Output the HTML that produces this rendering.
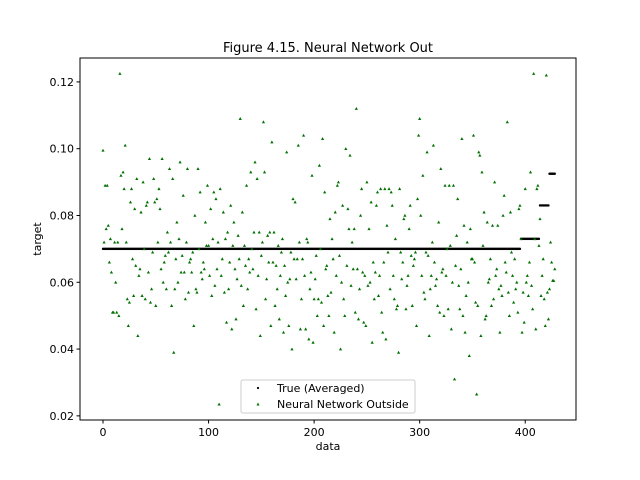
<!DOCTYPE html>
<html><head><meta charset="utf-8">
<style>
body{margin:0;background:#fff;}
svg{display:block;font-family:"DejaVu Sans","Liberation Sans",sans-serif;}
</style></head>
<body>
<svg id="chart" width="640" height="480" viewBox="0 0 640 480" xmlns="http://www.w3.org/2000/svg">
<rect width="640" height="480" fill="#fff"/>
<text x="328" y="52" text-anchor="middle" font-size="13">Figure 4.15. Neural Network Out</text>
<g id="marks"></g>
<rect x="80" y="58" width="496" height="362" fill="none" stroke="#000" stroke-width="1"/>
<g id="axes"></g>
<text x="328" y="450" text-anchor="middle" font-size="11">data</text>
<text transform="translate(41,239) rotate(-90)" text-anchor="middle" font-size="11">target</text>
<g>
<rect x="241" y="380" width="174" height="33" rx="2" fill="#fff" fill-opacity="0.8" stroke="#ccc"/>
<circle cx="258" cy="388" r="1.1" fill="#000"/>
<text x="277" y="392" font-size="11">True (Averaged)</text>
<path d="M256.5,405.5 L258,402.5 L259.5,405.5 Z" fill="#007000"/>
<text x="277" y="408" font-size="11">Neural Network Outside</text>
</g>
</svg>
<script>
const trueValues = [];
const trueLevels = [0.070, 0.073, 0.083, 0.0925];
const trueCounts = [396, 18, 9, 6];
const nnValues = [
.0995,.072,.089,.076,.089,.077,.066,.073,.063,.051,.051,.072,.060,.051,.072,.050,.1225,.092,.076,.093,
.088,.101,.072,.055,.047,.054,.084,.088,.067,.056,.082,.065,.091,.044,.062,.064,.081,.056,.090,.070,
.055,.083,.084,.063,.097,.054,.058,.069,.091,.084,.053,.085,.072,.088,.082,.064,.097,.060,.066,.068,
.058,.075,.069,.094,.072,.053,.091,.039,.058,.067,.078,.060,.073,.096,.063,.068,.086,.063,.055,.072,
.094,.057,.066,.067,.063,.069,.047,.080,.058,.057,.094,.070,.087,.063,.061,.066,.064,.078,.071,.089,
.071,.062,.082,.056,.073,.087,.059,.085,.064,.072,.0235,.088,.062,.067,.081,.057,.073,.048,.075,.058,
.066,.083,.046,.071,.078,.064,.049,.061,.074,.067,.109,.059,.081,.053,.071,.065,.089,.058,.067,.063,
.093,.070,.064,.075,.096,.052,.091,.062,.075,.044,.068,.072,.108,.093,.055,.061,.074,.066,.075,.047,
.102,.066,.075,.053,.065,.058,.071,.049,.062,.069,.073,.045,.065,.056,.099,.060,.047,.061,.069,.040,
.085,.067,.084,.061,.067,.101,.072,.046,.055,.067,.104,.062,.046,.073,.072,.043,.058,.063,.092,.042,
.055,.061,.068,.050,.055,.095,.070,.054,.103,.047,.087,.064,.065,.056,.050,.079,.057,.073,.067,.045,
.081,.062,.089,.090,.068,.040,.060,.083,.055,.050,.100,.065,.082,.076,.098,.059,.072,.064,.076,.051,
.112,.064,.049,.058,.080,.088,.063,.048,.062,.047,.090,.059,.076,.060,.084,.042,.066,.055,.063,.083,
.087,.056,.062,.088,.051,.045,.066,.088,.043,.077,.069,.088,.058,.087,.083,.062,.055,.073,.052,.053,
.039,.088,.069,.061,.066,.079,.080,.052,.059,.062,.076,.083,.068,.053,.065,.067,.069,.047,.085,.104,
.109,.080,.062,.092,.057,.055,.069,.099,.068,.044,.058,.062,.072,.101,.066,.059,.061,.053,.078,.051,
.094,.063,.064,.050,.089,.062,.070,.052,.089,.071,.046,.060,.089,.031,.065,.074,.085,.059,.052,.064,
.103,.050,.077,.045,.056,.072,.060,.038,.076,.067,.067,.104,.066,.054,.0265,.053,.099,.098,.044,.093,
.071,.081,.049,.050,.078,.060,.061,.067,.053,.077,.055,.090,.062,.064,.077,.058,.045,.059,.056,.080,
.086,.066,.063,.108,.057,.050,.081,.069,.062,.054,.067,.058,.060,.051,.082,.083,.073,.045,.057,.048,
.088,.060,.062,.056,.066,.093,.059,.052,.1225,.073,.046,.088,.089,.071,.079,.056,.062,.067,.055,.047,
.122,.057,.049,.058,.072,.066,.0605,.0605,.064];
const xTicks = [0, 100, 200, 300, 400];
const yTicks = [0.02, 0.04, 0.06, 0.08, 0.10, 0.12];
const yTickLabels = ["0.02", "0.04", "0.06", "0.08", "0.10", "0.12"];

trueLevels.forEach((v, k) => { for (let j = 0; j < trueCounts[k]; j++) trueValues.push(v); });

const X0 = 80, X1 = 576, Y0 = 420, Y1 = 58;
const xMin = -21.8, xMax = 448.1, yMin = 0.01876, yMax = 0.12716;
const xs = i => X0 + (i - xMin) / (xMax - xMin) * (X1 - X0);
const ys = v => Y0 - (v - yMin) / (yMax - yMin) * (Y0 - Y1);
const NS = "http://www.w3.org/2000/svg";
const marks = document.getElementById("marks");
const axes = document.getElementById("axes");

trueValues.forEach((v, i) => {
  const c = document.createElementNS(NS, "circle");
  c.setAttribute("cx", xs(i)); c.setAttribute("cy", ys(v)); c.setAttribute("r", 1.2);
  c.setAttribute("fill", "#000");
  
  
  marks.appendChild(c);
});
nnValues.forEach((v, i) => {
  const x = xs(i), y = ys(v);
  const p = document.createElementNS(NS, "path");
  p.setAttribute("d", `M${x-1.6},${y+1.3} L${x},${y-1.6} L${x+1.6},${y+1.3} Z`);
  p.setAttribute("fill", "#007000");
  
  
  marks.appendChild(p);
});
xTicks.forEach(t => {
  const x = xs(t);
  const l = document.createElementNS(NS, "line");
  l.setAttribute("x1", x); l.setAttribute("x2", x); l.setAttribute("y1", Y0); l.setAttribute("y2", Y0 + 3.5);
  l.setAttribute("stroke", "#000");
  
  
  axes.appendChild(l);
  const tx = document.createElementNS(NS, "text");
  tx.setAttribute("x", x); tx.setAttribute("y", Y0 + 16); tx.setAttribute("text-anchor", "middle");
  tx.setAttribute("font-size", "11");
  tx.textContent = t;
  
  
  axes.appendChild(tx);
});
yTicks.forEach((t, k) => {
  const y = ys(t);
  const l = document.createElementNS(NS, "line");
  l.setAttribute("x1", X0 - 3.5); l.setAttribute("x2", X0); l.setAttribute("y1", y); l.setAttribute("y2", y);
  l.setAttribute("stroke", "#000");
  
  
  axes.appendChild(l);
  const tx = document.createElementNS(NS, "text");
  tx.setAttribute("x", X0 - 6); tx.setAttribute("y", y + 4); tx.setAttribute("text-anchor", "end");
  tx.setAttribute("font-size", "11");
  tx.textContent = yTickLabels[k];
  
  
  axes.appendChild(tx);
});
</script>
</body></html>
